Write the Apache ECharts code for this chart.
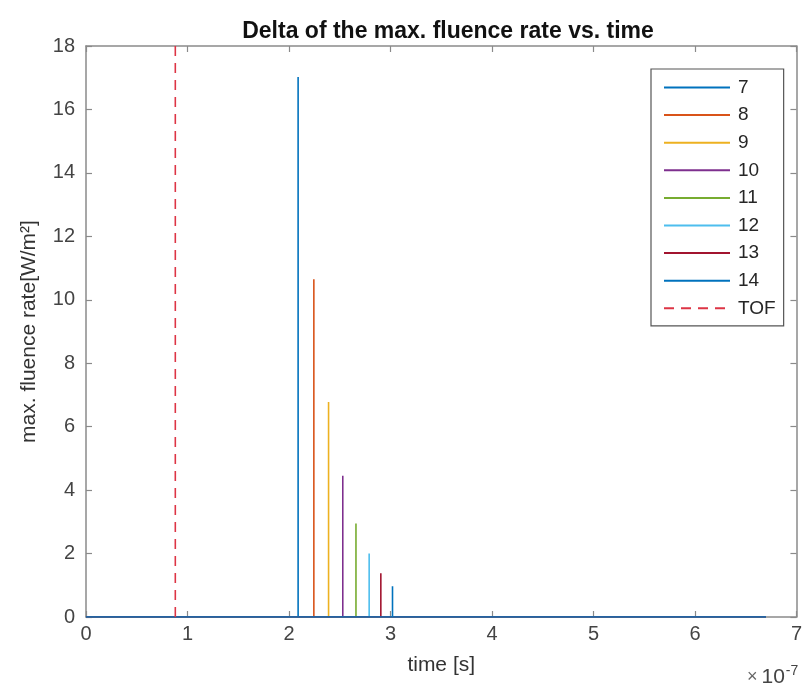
<!DOCTYPE html>
<html>
<head>
<meta charset="utf-8">
<script src="https://cdn.jsdelivr.net/npm/echarts@6/dist/echarts.min.js"></script>
<style>html,body{margin:0;padding:0;background:#fff}#c{width:805px;height:688px}</style>
</head>
<body>
<div id="c"></div>
<script>
// Data (time in units of 1e-7 s)
var seriesNames = ['7', '8', '9', '10', '11', '12', '13', '14'];
var peakTimes = [2.09, 2.245, 2.39, 2.53, 2.66, 2.79, 2.905, 3.02];
var peakValues = [17.02, 10.65, 6.78, 4.45, 2.95, 2.0, 1.38, 0.97];
var baselineStart = 0;
var baselineEnd = 6.7;
var tofTime = 0.88;
var xTicks = [0, 1, 2, 3, 4, 5, 6, 7];
var yTicks = [0, 2, 4, 6, 8, 10, 12, 14, 16, 18];
var colors = ['#0072BD', '#D95319', '#EDB120', '#7E2F8E', '#77AC30', '#4DBEEE', '#A2142F', '#0072BD'];
var FONT = '"Liberation Sans", Arial, Helvetica, sans-serif';

var chart = echarts.init(document.getElementById('c'), null, {renderer: 'canvas'});

var series = seriesNames.map(function (name, i) {
  var t = peakTimes[i], v = peakValues[i];
  return {
    name: name,
    type: 'line',
    symbol: 'none',
    animation: false,
    color: colors[i],
    lineStyle: {width: 1.6, color: colors[i]},
    data: [[baselineStart, 0], [t, 0], [t, v], [t, 0], [baselineEnd, 0]]
  };
});
series.push({
  name: 'TOF',
  type: 'line',
  symbol: 'none',
  animation: false,
  color: '#DD3545',
  lineStyle: {width: 1.6, type: [10, 7], color: '#DD3545'},
  data: [[tofTime, yTicks[0]], [tofTime, yTicks[yTicks.length - 1]]]
});

var axisCommon = {
  axisLine: {show: true, onZero: false, lineStyle: {color: '#8a8a8a', width: 1.5}},
  axisTick: {show: true, inside: true, length: 6, lineStyle: {color: '#8a8a8a', width: 1.2}},
  splitLine: {show: false}
};

var option = {
  backgroundColor: '#fff',
  animation: false,
  textStyle: {fontFamily: FONT},
  title: {
    text: 'Delta of the max. fluence rate vs. time',
    left: 443, top: 15, textAlign: 'center',
    textStyle: {fontSize: 23, fontWeight: 'bold', color: '#111', fontFamily: FONT}
  },
  grid: {left: 86, right: 5, top: 46, bottom: 71, containLabel: false},
  legend: {
    orient: 'vertical',
    left: 651, top: 69,
    data: seriesNames.concat(['TOF']),
    itemWidth: 66, itemHeight: 19, itemGap: 8.6,
    padding: [9, 8, 8, 12],
    backgroundColor: '#fff',
    borderColor: '#555', borderWidth: 1.2, borderRadius: 0,
    itemStyle: {opacity: 0},
    textStyle: {fontSize: 19, lineHeight: 19, color: '#262626', fontFamily: FONT, padding: [0, 0, 0, 3]},
    selectedMode: false
  },
  xAxis: [
    Object.assign({
      type: 'value', min: 0, max: 7, interval: 1, position: 'bottom',
      name: 'time [s]', nameLocation: 'middle', nameGap: 38,
      nameTextStyle: {fontSize: 21, color: '#333', fontFamily: FONT},
      axisLabel: {fontSize: 20, color: '#444', margin: 7, fontFamily: FONT,
        formatter: function (v) { return xTicks.indexOf(v) >= 0 ? String(v) : ''; }}
    }, axisCommon),
    Object.assign({
      type: 'value', min: 0, max: 7, interval: 1, position: 'top',
      axisLabel: {show: false}
    }, axisCommon)
  ],
  yAxis: [
    Object.assign({
      type: 'value', min: 0, max: 18, interval: 2, position: 'left',
      name: 'max. fluence rate[W/m²]', nameLocation: 'middle', nameGap: 46,
      nameTextStyle: {fontSize: 21, color: '#333', fontFamily: FONT},
      axisLabel: {fontSize: 20, color: '#444', margin: 11, fontFamily: FONT,
        formatter: function (v) { return yTicks.indexOf(v) >= 0 ? String(v) : ''; }}
    }, axisCommon),
    Object.assign({
      type: 'value', min: 0, max: 18, interval: 2, position: 'right',
      axisLabel: {show: false}
    }, axisCommon)
  ],
  graphic: [{
    type: 'text', left: 747, top: 664,
    style: {
      text: '{a|×}{b|10}{c|-7}',
      rich: {
        a: {fontSize: 18, fill: '#666', fontFamily: FONT, padding: [0, 4, 0, 0]},
        b: {fontSize: 21, fill: '#444', fontFamily: FONT},
        c: {fontSize: 14, fill: '#444', fontFamily: FONT, verticalAlign: 'top', padding: [0, 0, 12, 1]}
      }
    }
  }],
  series: series
};
chart.setOption(option);
</script>
</body>
</html>
